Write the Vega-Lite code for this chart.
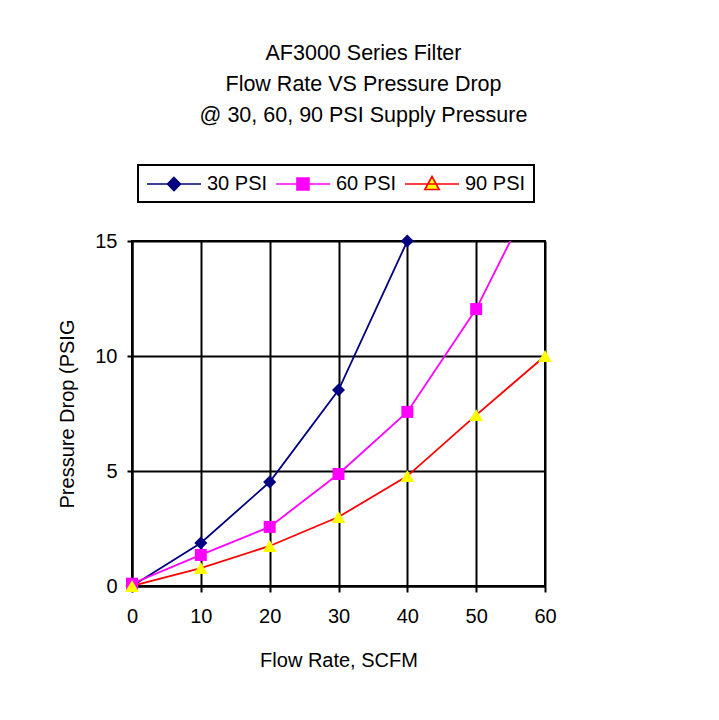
{
  "$schema": "https://vega.github.io/schema/vega-lite/v6.json",
  "width": 413,
  "height": 345,
  "autosize": {"type": "none"},
  "padding": {"left": 132, "top": 241, "right": 174, "bottom": 134},
  "background": "white",
  "title": {
    "text": ["AF3000 Series Filter", "Flow Rate VS Pressure Drop", "@ 30, 60, 90 PSI Supply Pressure"],
    "font": "Liberation Sans",
    "fontSize": 21.5,
    "fontWeight": "normal",
    "lineHeight": 31,
    "anchor": "middle",
    "dx": 25,
    "offset": 38,
    "color": "black"
  },
  "data": {
    "values": [
      {"series": "30 PSI", "flow": 0, "drop": 0},
      {"series": "30 PSI", "flow": 10, "drop": 1.87},
      {"series": "30 PSI", "flow": 20, "drop": 4.52},
      {"series": "30 PSI", "flow": 30, "drop": 8.52},
      {"series": "30 PSI", "flow": 40, "drop": 15},
      {"series": "60 PSI", "flow": 0, "drop": 0.1},
      {"series": "60 PSI", "flow": 10, "drop": 1.35},
      {"series": "60 PSI", "flow": 20, "drop": 2.57},
      {"series": "60 PSI", "flow": 30, "drop": 4.87},
      {"series": "60 PSI", "flow": 40, "drop": 7.57},
      {"series": "60 PSI", "flow": 50, "drop": 12.04},
      {"series": "60 PSI", "flow": 60, "drop": 18},
      {"series": "90 PSI", "flow": 0, "drop": 0},
      {"series": "90 PSI", "flow": 10, "drop": 0.78},
      {"series": "90 PSI", "flow": 20, "drop": 1.74},
      {"series": "90 PSI", "flow": 30, "drop": 3.0},
      {"series": "90 PSI", "flow": 40, "drop": 4.78},
      {"series": "90 PSI", "flow": 50, "drop": 7.43},
      {"series": "90 PSI", "flow": 60, "drop": 10.0}
    ]
  },
  "encoding": {
    "x": {
      "field": "flow", "type": "quantitative",
      "scale": {"domain": [0, 60], "nice": false, "zero": false},
      "axis": {"values": [0, 10, 20, 30, 40, 50, 60], "title": "Flow Rate, SCFM", "tickSize": 6, "labelPadding": 14, "titlePadding": 24, "labelFlush": false}
    },
    "y": {
      "field": "drop", "type": "quantitative",
      "scale": {"domain": [0, 15], "nice": false},
      "axis": {"values": [0, 5, 10, 15], "title": "Pressure Drop (PSIG", "tickSize": 5, "labelPadding": 10, "titlePadding": 17, "labelFlush": false}
    }
  },
  "layer": [
    {
      "mark": {"type": "line", "clip": true, "strokeWidth": 1.8},
      "encoding": {
        "color": {
          "field": "series", "type": "nominal",
          "scale": {"domain": ["30 PSI", "60 PSI", "90 PSI"], "range": ["#000080", "#ff00ff", "#ff0000"]},
          "legend": {
            "title": null,
            "orient": "none",
            "legendX": 6,
            "legendY": -76,
            "direction": "horizontal",
            "columns": 3,
            "strokeColor": "black",
            "padding": 8,
            "columnPadding": 4,
            "symbolSize": 400,
            "symbolOffset": 17,
            "labelOffset": 22,
            "labelFont": "Liberation Sans",
            "labelFontSize": 20,
            "labelColor": "black",
            "encode": {
              "symbols": {
                "update": {
                  "shape": {"signal": "datum.value === '30 PSI' ? 'M-2.7,0L2.7,0M0,-0.65L0.65,0L0,0.65L-0.65,0Z' : datum.value === '60 PSI' ? 'M-2.7,0L2.7,0M-0.6,-0.6L0.6,-0.6L0.6,0.6L-0.6,0.6Z' : 'M-2.7,0L2.7,0M0,-0.75L0.72,0.55L-0.72,0.55Z'"},
                  "fill": {"signal": "datum.value === '30 PSI' ? '#000080' : datum.value === '60 PSI' ? '#ff00ff' : '#ffff00'"},
                  "stroke": {"signal": "datum.value === '30 PSI' ? '#000080' : datum.value === '60 PSI' ? '#ff00ff' : '#ff0000'"},
                  "strokeWidth": {"value": 1.6},
                  "fillOpacity": {"value": 1},
                  "opacity": {"value": 1}
                }
              }
            }
          }
        }
      }
    },
    {
      "transform": [{"filter": "datum.series === '30 PSI' && datum.drop <= 15.5"}],
      "mark": {"type": "point", "filled": true, "opacity": 1, "size": 170, "shape": "diamond", "color": "#000080", "strokeWidth": 0}
    },
    {
      "transform": [{"filter": "datum.series === '60 PSI' && datum.drop <= 15.5"}],
      "mark": {"type": "point", "filled": true, "opacity": 1, "size": 144, "shape": "square", "color": "#ff00ff", "strokeWidth": 0}
    },
    {
      "transform": [{"filter": "datum.series === '90 PSI' && datum.drop <= 15.5"}],
      "mark": {"type": "point", "filled": true, "opacity": 1, "size": 190, "shape": "triangle-up", "color": "#ffff00", "strokeWidth": 0}
    }
  ],
  "config": {
    "view": {"stroke": "black", "strokeWidth": 2},
    "legend": {"strokeWidth": 2},
    "axis": {
      "grid": true,
      "gridColor": "black",
      "gridOpacity": 1,
      "gridWidth": 2,
      "domainColor": "black",
      "domainWidth": 2,
      "tickColor": "black",
      "tickWidth": 2,
      "labelFont": "Liberation Sans",
      "labelFontSize": 20,
      "labelColor": "black",
      "titleFont": "Liberation Sans",
      "titleFontSize": 20,
      "titleFontWeight": "normal",
      "titleColor": "black"
    }
  }
}
